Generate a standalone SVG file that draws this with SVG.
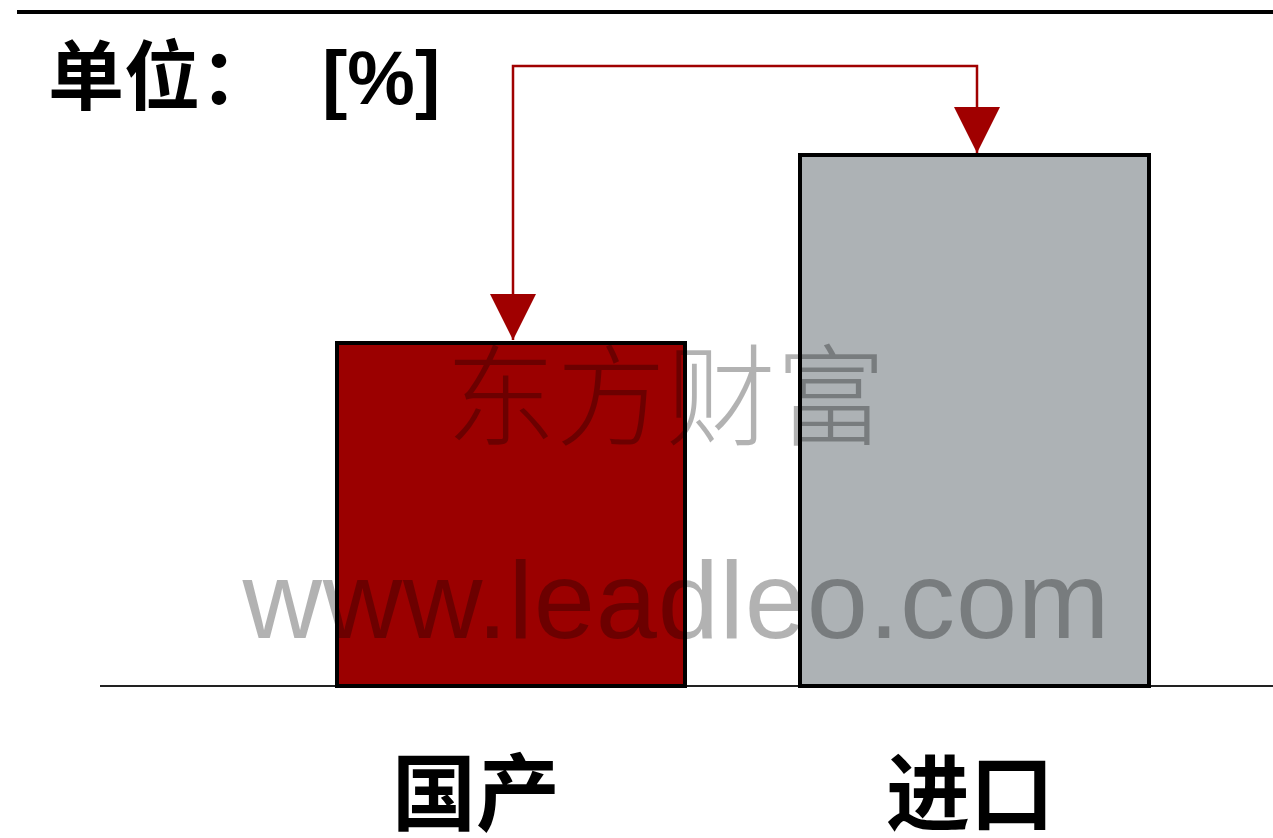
<svg xmlns="http://www.w3.org/2000/svg" width="1273" height="838" viewBox="0 0 1273 838">
<style>
.bar{stroke:#000;stroke-width:4}
.lbl{font-family:"Noto Sans CJK SC","Liberation Sans",sans-serif;font-weight:bold;fill:#000}
.wm{fill:#000;fill-opacity:0.3}
.conn{fill:none;stroke:#a00000;stroke-width:2.5}
</style>
<defs>
<marker id="arr" viewBox="0 0 46 46" refX="46" refY="23" markerWidth="46" markerHeight="46" markerUnits="userSpaceOnUse" orient="auto-start-reverse">
<path d="M0,0 L46,23 L0,46 Z" fill="#a00000"/>
</marker>
</defs>
<rect width="1273" height="838" fill="#fff"/>
<line x1="17" y1="12" x2="1273" y2="12" stroke="#000" stroke-width="4"/>
<text class="lbl" x="48" y="104" font-size="76">单位：<tspan x="322" font-family="Liberation Sans,sans-serif">[%]</tspan></text>
<line x1="100" y1="686" x2="1273" y2="686" stroke="#222" stroke-width="2"/>
<g id="node-domestic">
<rect class="bar" x="337" y="343" width="348" height="343" fill="#9b0000"/>
<text class="lbl" x="476" y="824" font-size="84" text-anchor="middle">国产</text>
</g>
<g id="node-import">
<rect class="bar" x="800" y="155" width="349" height="531" fill="#adb2b5"/>
<text class="lbl" x="970" y="824" font-size="84" text-anchor="middle">进口</text>
</g>
<g id="connectors">
<path class="conn" d="M513,340 V66 H977 V153" marker-start="url(#arr)" marker-end="url(#arr)"/>
</g>
<g id="watermark">
<text class="wm" x="666" y="437" font-size="110" text-anchor="middle" font-family="Noto Sans CJK SC,sans-serif" font-weight="300">东方财富</text>
<text class="wm" x="676" y="638" font-size="110" text-anchor="middle" font-family="Liberation Sans,sans-serif" textLength="867">www.leadleo.com</text>
</g>
</svg>
